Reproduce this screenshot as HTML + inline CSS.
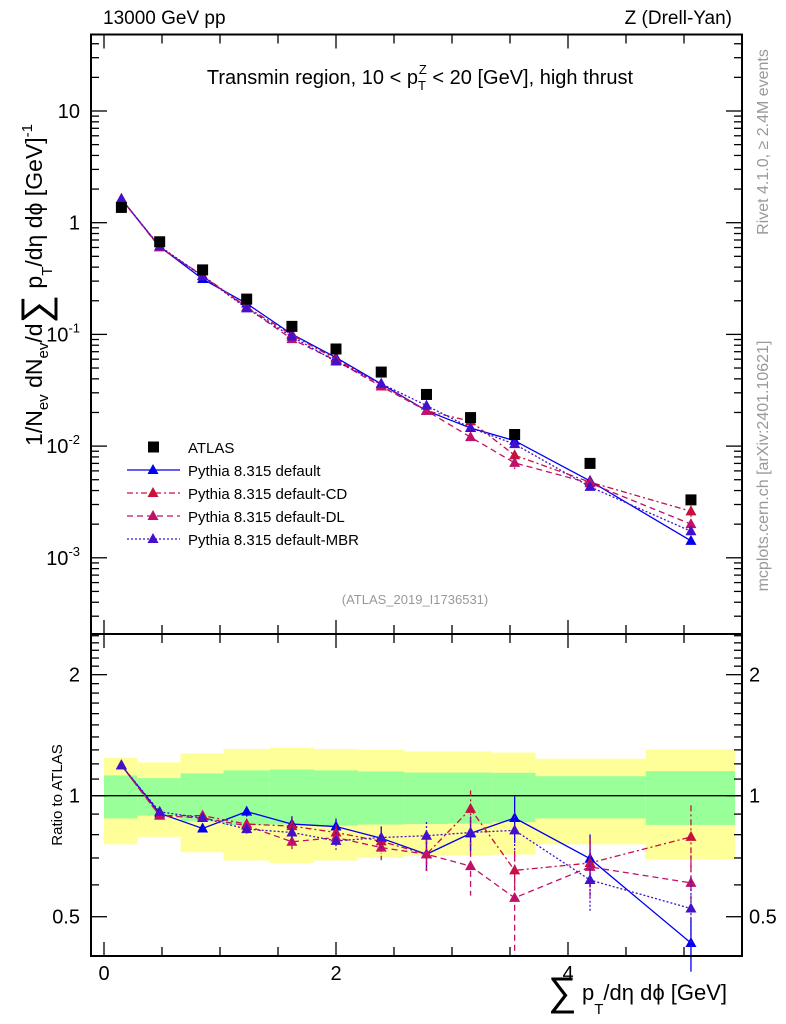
<!DOCTYPE html>
<html><head><meta charset="utf-8">
<style>
body{margin:0;background:#fff;}
svg{display:block;font-family:"Liberation Sans",sans-serif;}
</style></head>
<body>
<svg id="chart" width="786" height="1024" viewBox="0 0 786 1024" xmlns="http://www.w3.org/2000/svg">
<g id="bands"></g>
<g id="marks"></g>
<g id="axes"></g>
<text x="103" y="24" font-size="19">13000 GeV pp</text>
<text x="732" y="24" font-size="19" text-anchor="end">Z (Drell-Yan)</text>
<text x="420" y="84" font-size="20" text-anchor="middle">Transmin region, 10 &lt; p<tspan font-size="13" dy="6">T</tspan><tspan font-size="13" dx="-7" dy="-16">Z</tspan><tspan dy="10"> &lt; 20 [GeV], high thrust</tspan></text>
<text x="415" y="604" font-size="13" fill="#999" text-anchor="middle">(ATLAS_2019_I1736531)</text>
<text transform="translate(768,142) rotate(-90)" font-size="16" fill="#999" text-anchor="middle">Rivet 4.1.0, ≥ 2.4M events</text>
<text transform="translate(768,466) rotate(-90)" font-size="16" fill="#999" text-anchor="middle">mcplots.cern.ch [arXiv:2401.10621]</text>
<text transform="translate(42,285) rotate(-90)" font-size="23" text-anchor="middle">1/N<tspan font-size="15" dy="6">ev</tspan><tspan dy="-6"> dN</tspan><tspan font-size="15" dy="6">ev</tspan><tspan dy="-6">/d</tspan><tspan font-size="40" dy="7">∑</tspan><tspan dy="-7"> p</tspan><tspan font-size="15" dy="10">T</tspan><tspan dy="-10">/dη dϕ  [GeV]</tspan><tspan font-size="15" dy="-10">-1</tspan></text>
<text transform="translate(62,795) rotate(-90)" font-size="15" text-anchor="middle">Ratio to ATLAS</text>
<text x="548" y="1005" font-size="40">∑</text>
<text x="582" y="1000" font-size="22">p<tspan font-size="15" dy="14">T</tspan><tspan dy="-14">/dη dϕ [GeV]</tspan></text>
<g id="legend"></g>
</svg>
<script>
const xCenters=[0.15,0.48,0.85,1.23,1.62,2.0,2.39,2.78,3.16,3.54,4.19,5.06];
const binEdges=[0,0.29,0.66,1.03,1.43,1.81,2.19,2.59,2.97,3.35,3.72,4.67,5.44];
const atlas=[1.37,0.675,0.378,0.207,0.118,0.074,0.046,0.029,0.018,0.0127,0.0070,0.0033];
const greenHi=[1.123,1.106,1.136,1.156,1.162,1.156,1.149,1.142,1.142,1.14,1.118,1.151];
const greenLo=[0.878,0.892,0.863,0.845,0.848,0.843,0.848,0.85,0.852,0.86,0.878,0.846];
const yellowHi=[1.243,1.21,1.273,1.307,1.317,1.307,1.302,1.289,1.289,1.28,1.236,1.304];
const yellowLo=[0.757,0.79,0.723,0.69,0.68,0.69,0.70,0.708,0.71,0.714,0.757,0.693];
const ratioDefault=[1.19,0.904,0.829,0.913,0.85,0.838,0.784,0.715,0.806,0.88,0.697,0.43];
const ratioCD=[1.19,0.892,0.892,0.85,0.84,0.81,0.77,0.715,0.927,0.652,0.68,0.79];
const ratioDL=[1.19,0.892,0.88,0.842,0.768,0.787,0.743,0.715,0.668,0.557,0.665,0.607];
const ratioMBR=[1.19,0.912,0.88,0.826,0.81,0.772,0.787,0.795,0.81,0.82,0.617,0.524];
const errDefault=[0.01,0.01,0.01,0.02,0.03,0.03,0.04,0.05,0.06,0.09,0.08,0.05];
const errCD=[0.01,0.01,0.01,0.02,0.03,0.03,0.04,0.05,0.08,0.06,0.08,0.12];
const errDL=[0.01,0.01,0.01,0.02,0.03,0.03,0.04,0.05,0.08,0.12,0.08,0.08];
const errMBR=[0.01,0.01,0.01,0.02,0.03,0.03,0.04,0.05,0.06,0.07,0.08,0.08];
const mainTicks=[0.001,0.01,0.1,1,10];
const mainTickLabels=["10^-3","10^-2","10^-1","1","10"];
const ratioTicks=[0.5,1,2];
const ratioTickLabels=["0.5","1","2"];
const xTicks=[0,2,4];

const L=91,R=742,T=34.5,MB=634,RB=956;
const X=v=>104+v*116;
const Ym=v=>222.7-Math.log10(v)*111.7;
const Yr=v=>795.7-Math.log10(v)*402;
const NS="http://www.w3.org/2000/svg";
function mk(p,tag,at){const e=document.createElementNS(NS,tag);for(const k in at)e.setAttribute(k,at[k]);p.appendChild(e);return e;}
const bands=document.getElementById('bands'),marks=document.getElementById('marks'),axes=document.getElementById('axes'),legend=document.getElementById('legend');

for(let i=0;i<xCenters.length;i++){
  const x0=X(binEdges[i]),x1=X(binEdges[i+1]);
  let r=mk(bands,'rect',{x:x0,y:Yr(yellowHi[i]),width:x1-x0,height:Yr(yellowLo[i])-Yr(yellowHi[i]),fill:'#ffff99'});
  
  
  r=mk(bands,'rect',{x:x0,y:Yr(greenHi[i]),width:x1-x0,height:Yr(greenLo[i])-Yr(greenHi[i]),fill:'#99ff99'});
  
  
}
let ln=mk(marks,'line',{x1:L,x2:R,y1:Yr(1),y2:Yr(1),stroke:'#000','stroke-width':1.3});



const series=[
 {name:'Pythia 8.315 default',r:ratioDefault,e:errDefault,c:'#0000ee',dash:'',key:'default'},
 {name:'Pythia 8.315 default-CD',r:ratioCD,e:errCD,c:'#c8103c',dash:'6,3,2,3',key:'cd'},
 {name:'Pythia 8.315 default-DL',r:ratioDL,e:errDL,c:'#c0106a',dash:'6,4',key:'dl'},
 {name:'Pythia 8.315 default-MBR',r:ratioMBR,e:errMBR,c:'#4410cc',dash:'2,2',key:'mbr'}];
function tri(g,x,y,c){const t=mk(g,'path',{d:`M${x},${y-6}L${x+5.5},${y+4}L${x-5.5},${y+4}Z`,fill:c});return t;}
series.forEach(s=>{
  const gm=mk(marks,'g',{});
  
  
  const gr=mk(marks,'g',{});
  
  
  const pm=xCenters.map((x,i)=>X(x)+','+Ym(s.r[i]*atlas[i])).join(' ');
  const pr=xCenters.map((x,i)=>X(x)+','+Yr(s.r[i])).join(' ');
  mk(gm,'polyline',{points:pm,fill:'none',stroke:s.c,'stroke-width':1.3,'stroke-dasharray':s.dash});
  mk(gr,'polyline',{points:pr,fill:'none',stroke:s.c,'stroke-width':1.3,'stroke-dasharray':s.dash});
  xCenters.forEach((x,i)=>{
    const v=s.r[i]*atlas[i];
    mk(gm,'line',{x1:X(x),x2:X(x),y1:Ym(v*(1+s.e[i])),y2:Ym(v*(1-s.e[i])),stroke:s.c,'stroke-width':1.3,'stroke-dasharray':s.dash});
    const t=tri(gm,X(x),Ym(v),s.c);
    
    
    mk(gr,'line',{x1:X(x),x2:X(x),y1:Yr(s.r[i]+s.e[i]*1.3),y2:Yr(s.r[i]-s.e[i]*1.3),stroke:s.c,'stroke-width':1.3,'stroke-dasharray':s.dash});
    const t2=tri(gr,X(x),Yr(s.r[i]),s.c);
    
    
  });
});
xCenters.forEach((x,i)=>{
  const r=mk(marks,'rect',{x:X(x)-5.5,y:Ym(atlas[i])-5.5,width:11,height:11,fill:'#000'});
  
  
});

[[T,MB],[MB,RB]].forEach(([a,b],k)=>{
  const f=mk(axes,'rect',{x:L,y:a,width:R-L,height:b-a,fill:'none',stroke:'#000','stroke-width':2});
  
  
});
for(let v=0;v<=5.5;v+=0.5){
  const major=Math.abs(v-Math.round(v/2)*2)<1e-6;
  const len=major?14:9;
  [[T,1],[MB,-1],[MB,1],[RB,-1]].forEach(([y,d])=>mk(axes,'line',{x1:X(v),x2:X(v),y1:y,y2:y+d*len,stroke:'#000','stroke-width':1.3}));
}
xTicks.forEach(v=>{const t=mk(axes,'text',{x:X(v),y:980,'font-size':20,'text-anchor':'middle'});t.textContent=v;
  
  });
for(let e=-4;e<=1;e++){for(let m=1;m<=9;m++){const v=m*Math.pow(10,e);const y=Ym(v);if(y<T||y>MB)continue;
  const len=m==1?16:8;[[L,1],[R,-1]].forEach(([x,d])=>mk(axes,'line',{x1:x,x2:x+d*len,y1:y,y2:y,stroke:'#000','stroke-width':1.3}));}}
mainTicks.forEach((v,i)=>{
  const lab=mainTickLabels[i];const t=mk(axes,'text',{x:80,y:Ym(v)+7,'font-size':20,'text-anchor':'end'});
  if(lab.startsWith('10^')){t.textContent='10';const s=mk(t,'tspan',{dy:-9,'font-size':13});s.textContent=lab.slice(3);}
  else t.textContent=lab;
  
  
});
for(let v=0.4;v<=2.55;v+=0.1){const y=Yr(v);if(y<MB||y>RB)continue;const maj=[0.5,1,2].some(m=>Math.abs(m-v)<1e-6);
  const len=maj?16:8;[[L,1],[R,-1]].forEach(([x,d])=>mk(axes,'line',{x1:x,x2:x+d*len,y1:y,y2:y,stroke:'#000','stroke-width':1.3}));}
ratioTicks.forEach((v,i)=>{
  [[80,'end'],[749,'start']].forEach(([x,a])=>{const t=mk(axes,'text',{x:x,y:Yr(v)+7,'font-size':20,'text-anchor':a});t.textContent=ratioTickLabels[i];
  
  });
});
const lg=[{name:'ATLAS'}].concat(series);
lg.forEach((s,i)=>{
  const y=447+i*23;
  const g=mk(legend,'g',{});
  
  
  if(i==0){mk(g,'rect',{x:148,y:y-5.5,width:11,height:11,fill:'#000'});}
  else{mk(g,'line',{x1:127,x2:180,y1:y,y2:y,stroke:s.c,'stroke-width':1.3,'stroke-dasharray':s.dash});tri(g,153,y,s.c);}
  const t=mk(g,'text',{x:188,y:y+6,'font-size':15});t.textContent=s.name;
});
</script>
</body></html>
